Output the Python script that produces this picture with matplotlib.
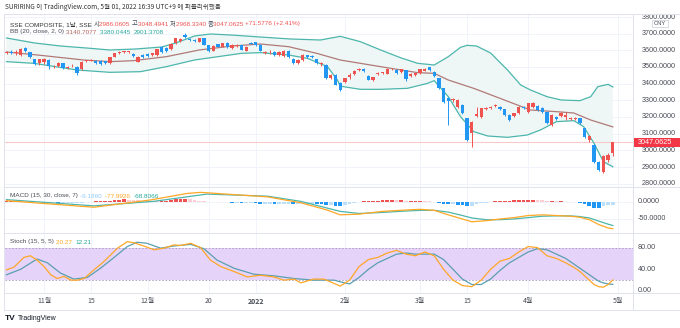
import matplotlib
matplotlib.use("Agg")
import matplotlib.pyplot as plt
import numpy as np

W, H, DPI = 680, 328, 100

# daily bars, SSE Composite, 2021-10-20 .. 2022-04-29
opens = [3587, 3590, 3586, 3572, 3612, 3588, 3546, 3522, 3532, 3542,
         3504, 3506, 3522, 3492, 3510, 3502, 3486, 3536, 3538, 3536,
         3536, 3536, 3522, 3562, 3582, 3592, 3590, 3578, 3532, 3572,
         3576, 3572, 3572, 3618, 3616, 3606, 3642, 3656, 3690, 3668,
         3664, 3652, 3672, 3630, 3598, 3636, 3622, 3646, 3612, 3624,
         3630, 3598, 3644, 3648, 3632, 3582, 3588, 3592, 3572, 3566,
         3598, 3548, 3522, 3542, 3570, 3568, 3546, 3516, 3514, 3432,
         3452, 3406, 3412, 3440, 3456, 3480, 3490, 3448, 3422, 3456,
         3464, 3460, 3486, 3484, 3470, 3482, 3446, 3452, 3466, 3478,
         3498, 3470, 3432, 3372, 3312, 3300, 3262, 3272, 3192, 3102,
         3206, 3202, 3246, 3256, 3266, 3258, 3246, 3212, 3206, 3222,
         3258, 3232, 3262, 3266, 3252, 3232, 3152, 3198, 3206, 3198,
         3190, 3190, 3192, 3132, 3062, 3032, 2928, 2872, 2942, 2986.0605]
highs = [3594, 3600, 3604, 3612, 3618, 3590, 3550, 3550, 3552, 3548,
         3510, 3530, 3526, 3506, 3516, 3504, 3534, 3542, 3546, 3540,
         3540, 3538, 3560, 3586, 3594, 3598, 3596, 3582, 3564, 3578,
         3582, 3586, 3610, 3624, 3620, 3642, 3676, 3672, 3702, 3672,
         3668, 3676, 3676, 3634, 3630, 3640, 3646, 3650, 3636, 3636,
         3634, 3626, 3650, 3652, 3636, 3596, 3600, 3596, 3596, 3602,
         3602, 3552, 3546, 3576, 3574, 3572, 3550, 3532, 3516, 3458,
         3456, 3412, 3436, 3462, 3482, 3492, 3494, 3452, 3442, 3470,
         3472, 3492, 3496, 3488, 3490, 3484, 3462, 3466, 3490, 3492,
         3502, 3474, 3436, 3376, 3318, 3314, 3308, 3280, 3196, 3176,
         3262, 3256, 3260, 3266, 3276, 3264, 3250, 3216, 3226, 3266,
         3266, 3286, 3290, 3270, 3260, 3236, 3216, 3204, 3232, 3232,
         3198, 3200, 3196, 3136, 3090, 3036, 2934, 2974, 2982, 3048.4941]
lows = [3578, 3580, 3575, 3565, 3592, 3556, 3512, 3510, 3520, 3490,
        3496, 3502, 3486, 3486, 3500, 3452, 3482, 3530, 3534, 3518,
        3514, 3518, 3518, 3558, 3578, 3586, 3586, 3560, 3528, 3556,
        3562, 3566, 3568, 3586, 3588, 3602, 3640, 3650, 3676, 3656,
        3648, 3648, 3630, 3592, 3594, 3618, 3618, 3614, 3606, 3620,
        3600, 3594, 3636, 3628, 3594, 3578, 3580, 3568, 3568, 3562,
        3556, 3516, 3518, 3538, 3556, 3552, 3518, 3508, 3428, 3426,
        3390, 3356, 3404, 3428, 3452, 3474, 3470, 3420, 3416, 3452,
        3460, 3456, 3482, 3456, 3466, 3418, 3440, 3446, 3460, 3474,
        3478, 3440, 3368, 3286, 3155, 3292, 3254, 3218, 3058, 3022,
        3200, 3196, 3240, 3248, 3262, 3240, 3206, 3176, 3200, 3218,
        3246, 3226, 3256, 3236, 3226, 3156, 3148, 3182, 3202, 3180,
        3180, 3184, 3156, 3076, 3052, 2926, 2878, 2864, 2930, 2968.3340]
closes = [3590, 3586, 3588, 3606, 3596, 3562, 3518, 3546, 3546, 3506,
          3506, 3526, 3492, 3502, 3512, 3464, 3532, 3538, 3542, 3522,
          3518, 3522, 3558, 3582, 3590, 3594, 3593, 3566, 3562, 3562,
          3566, 3582, 3606, 3592, 3594, 3638, 3672, 3666, 3682, 3662,
          3654, 3672, 3634, 3598, 3626, 3622, 3642, 3620, 3632, 3630,
          3604, 3622, 3640, 3634, 3598, 3590, 3592, 3572, 3592, 3598,
          3562, 3522, 3542, 3570, 3560, 3558, 3522, 3526, 3432, 3454,
          3394, 3362, 3432, 3454, 3478, 3486, 3478, 3424, 3438, 3466,
          3468, 3488, 3490, 3462, 3486, 3430, 3458, 3462, 3488, 3486,
          3482, 3444, 3372, 3292, 3294, 3306, 3302, 3222, 3062, 3172,
          3216, 3252, 3252, 3262, 3272, 3246, 3212, 3182, 3222, 3262,
          3252, 3282, 3286, 3242, 3232, 3162, 3212, 3186, 3226, 3210,
          3194, 3194, 3162, 3082, 3086, 2932, 2884, 2968, 2975, 3047.0625]

tick_idx = [8, 18, 30, 43, 53, 72, 88, 98, 111, 130]
tick_lbl = ["11월", "15", "12월", "20", "2022", "2월", "3월", "15", "4월", "5월"]

# Bollinger bands (20, 2)
bb_up_x = [0, 6, 11.5, 17, 22, 27.5, 33, 36, 40, 43.4, 47.7, 54, 60.4, 66.8, 71,
           75.3, 79.6, 84, 87.5, 91, 94, 96.6, 98, 100, 103, 106.6, 109.4, 111.5,
           115, 118, 122, 124.3, 125.8, 128, 129]
bb_up = [3674, 3644, 3626, 3614, 3602, 3608, 3620, 3644, 3686, 3698, 3692, 3680,
         3668, 3662, 3684, 3652, 3602, 3554, 3522, 3512, 3562, 3618, 3630, 3626,
         3584, 3482, 3392, 3362, 3322, 3302, 3298, 3322, 3382, 3396, 3380.0445]
bb_mid_x = [0, 6.6, 16.4, 22, 27, 34, 41, 48, 54, 60, 66, 71, 79.6, 87.5, 91, 94,
            99.4, 105, 108.7, 111.5, 117, 120.7, 124.3, 129]
bb_mid = [3590, 3572, 3542, 3532, 3538, 3562, 3602, 3626, 3638, 3622, 3582, 3542,
          3502, 3466, 3462, 3422, 3372, 3312, 3272, 3242, 3232, 3224, 3182, 3140.7077]
bb_lo_x = [0, 5.8, 15, 22, 28.5, 34, 40, 50, 54, 60, 64, 68.3, 70.4, 71, 75.3,
           79.6, 85.3, 89.6, 91, 94, 96.6, 99.4, 102.4, 106.6, 110.8, 113.6, 117,
           120.7, 122.8, 125, 127, 129]
bb_lo = [3532, 3522, 3482, 3468, 3472, 3502, 3542, 3582, 3586, 3572, 3552, 3502,
         3422, 3385, 3366, 3366, 3372, 3402, 3418, 3322, 3202, 3112, 3086, 3078,
         3092, 3122, 3172, 3178, 3142, 3042, 2932, 2901.3708]

# MACD (15, 30, 7)
macd_x = [0, 5.8, 18.6, 30.6, 38.5, 41.3, 55.5, 62.6, 68.2, 71, 75, 80, 85, 88, 91,
          94, 97, 99, 102, 105, 108, 111, 114, 117, 120, 122, 124, 126, 128, 129]
macd = [3, -3, -16, 5, 24, 27, 14, -3, -24, -38, -36, -28, -24, -22, -25, -38, -50,
        -58, -55, -50, -46, -40, -38, -40, -42, -45, -52, -66, -76, -77.9926]
sig_x = [0, 18.6, 31.3, 42.7, 55.5, 62.6, 71, 75, 80, 85, 88, 91, 94, 97, 99, 102,
         105, 108, 111, 114, 117, 120, 122, 124, 126, 128, 129]
sig = [6, -12, 1, 22, 16, 1, -28, -34, -31, -27, -25, -25, -30, -40, -47, -52, -52,
       -50, -46, -42, -41, -41, -43, -47, -56, -65, -68.8066]
hist = [1, 2, 2, 3, 2, 1,
        -1, -2, -3, -4, -4, -5, -5, -4, -4, -3, -3, -2,
        0, 1, 2, 2, 3,
        4, 6, 7, 6, 5,
        4, 3, 2, 2, 1, 2, 3,
        5, 7, 8, 8, 7,
        5, 3, 2, 0,
        -1, -2, -2, -2, -3,
        -3, -4, -4, -4, -5, -6, -6, -6, -7, -7, -6, -6,
        -7, -7, -6, -6, -6, -7, -8, -10, -10, -11, -12,
        -10, -7, -4, -2,
        1, 1, 2, 3, 4, 5, 5, 4, 4, 3, 3, 3, 3, 2, 1,
        -1, -3, -6, -8, -8, -9, -10, -12, -11,
        -8, -5, -3, -1, 1, 2, 3, 3, 4, 5, 5,
        6, 6, 5, 4, 2, 2, 1, 1, 0, -1, -1,
        -3, -6, -12, -17, -18, -12, -10, -9.186]

# Stochastic (15, 5, 5)
k_x = [0, 1.6, 3.7, 5.1, 6.5, 8, 9.4, 10.8, 12.2, 13.7, 15.1, 16.5, 18.6, 20.7,
       23.6, 25.7, 27.1, 29.2, 31.4, 33.5, 35.6, 37, 39.2, 41.3, 43.4, 45.6, 48.4,
       51.2, 54, 56.9, 59, 61.2, 62.6, 65.4, 67.5, 69.7, 71, 73, 75, 77, 79, 81,
       83, 85, 87, 89, 91, 93, 95, 97, 99, 101, 103, 105, 107, 109, 111, 113, 115,
       117, 119, 121, 122, 124, 125, 126, 127, 128, 129]
k_val = [39, 44, 62, 65, 57, 45, 30, 23, 27, 20, 20, 23, 39, 54, 79, 91, 89, 83, 76,
         79, 85, 84, 88, 80, 57, 45, 36, 26, 29, 26, 20, 22, 15, 22, 22, 14, 9, 20,
         45, 58, 62, 70, 75, 68, 65, 72, 65, 40, 20, 10, 8, 20, 40, 55, 60, 72, 82,
         80, 65, 60, 52, 42, 36, 20, 12, 8, 7, 12, 20.27]
d_x = [0, 3, 6.5, 8.7, 11.5, 14.3, 17.2, 20, 22.9, 25.7, 27.8, 29.9, 32.8, 35.6,
       39.2, 42, 44.8, 48.4, 52.6, 56.9, 61.2, 65.4, 69.7, 71, 73, 75, 77, 79, 81,
       83, 85, 87, 89, 91, 93, 95, 97, 99, 101, 103, 105, 107, 109, 111, 113, 115,
       117, 119, 121, 122, 124, 125, 126, 127, 128, 129]
d_val = [30, 40, 59, 52, 33, 22, 25, 42, 62, 82, 90, 88, 79, 83, 86, 78, 57, 42, 31,
         28, 23, 20, 20, 17, 13, 25, 40, 52, 60, 68, 70, 68, 68, 68, 58, 40, 22, 12,
         12, 22, 38, 52, 62, 72, 78, 76, 68, 60, 48, 42, 30, 24, 18, 15, 13, 12.21]

UP, DN = "#ef5350", "#2196f3"
TEAL, ORANGE = "#4db6ac", "#ffa726"
GRID, SEP = "#f0f3fa", "#e0e3eb"
TXT = "#4a4d57"
LAT = ["Liberation Sans", "Noto Sans CJK KR"]
NARROW = ["Liberation Sans Narrow", "Liberation Sans"]
KR = ["Noto Sans CJK KR", "DejaVu Sans"]

fig = plt.figure(figsize=(W / DPI, H / DPI), dpi=DPI)
fig.patch.set_facecolor("white")

L, R = 5, 633
X0 = -0.32
X1 = X0 + (R - L) / 4.7


def panel(top, bottom, ylim):
    ax = fig.add_axes([L / W, 1 - bottom / H, (R - L) / W, (bottom - top) / H])
    ax.set_xlim(X0, X1)
    ax.set_ylim(*ylim)
    ax.axis("off")
    for t in tick_idx:
        ax.axvline(t, color=GRID, lw=0.7, zorder=0)
    return ax


def scale(top, bottom, ylim):
    ax = fig.add_axes([R / W, 1 - bottom / H, (W - R) / W, (bottom - top) / H])
    ax.set_xlim(0, W - R)
    ax.set_ylim(*ylim)
    ax.axis("off")
    return ax


ax_p = panel(14, 187, (2780, 3818))
ax_m = panel(187, 233, (-90.5, 42.5))
ax_s = panel(233, 293, (-3.7, 107))

# price panel
for p in range(2800, 3900, 100):
    ax_p.axhline(p, color=GRID, lw=0.7, zorder=0)
ax_p.fill(bb_up_x + bb_lo_x[::-1], bb_up + bb_lo[::-1], color="#eef7f6", lw=0, zorder=1)
ax_p.plot(bb_up_x, bb_up, color=TEAL, lw=0.9, zorder=2)
ax_p.plot(bb_lo_x, bb_lo, color=TEAL, lw=0.9, zorder=2)
ax_p.plot(bb_mid_x, bb_mid, color="#b07a78", lw=0.9, zorder=2)
ax_p.axhline(closes[-1], color="#f9c9c9", lw=0.8, zorder=1)

idx = np.arange(len(closes))
o, c = np.array(opens), np.array(closes)
cols = [UP if cc >= oo else DN for oo, cc in zip(o, c)]
ax_p.vlines(idx, lows, highs, colors=cols, lw=0.7, zorder=3)
body = np.maximum(np.abs(c - o), 5)
ax_p.bar(idx, body, bottom=np.minimum(o, c), width=0.7, color=cols, lw=0, zorder=4)

# MACD panel
ax_m.axhline(0, color=GRID, lw=0.7, zorder=0)
ax_m.axhline(-50, color=GRID, lw=0.7, zorder=0)
hcols = []
for i, h in enumerate(hist):
    prev = hist[i - 1] if i else h
    if h >= 0:
        hcols.append("#ef5350" if h >= prev else "#ffcdd2")
    else:
        hcols.append("#2196f3" if h < prev else "#bbdefb")
ax_m.bar(idx, hist, width=0.8, color=hcols, lw=0, zorder=2)
ax_m.plot(sig_x, sig, color=TEAL, lw=0.9, zorder=3)
ax_m.plot(macd_x, macd, color=ORANGE, lw=0.9, zorder=3)

# Stochastic panel
ax_s.axhspan(20, 80, color="#e6d3f9", lw=0, zorder=0)
ax_s.axhline(80, color="#a79cbc", lw=0.6, ls=(0, (2, 2)), zorder=1)
ax_s.axhline(20, color="#a79cbc", lw=0.6, ls=(0, (2, 2)), zorder=1)
ax_s.plot(d_x, d_val, color="#5b9fb0", lw=0.9, zorder=3)
ax_s.plot(k_x, k_val, color=ORANGE, lw=0.9, zorder=3)

# right-hand scales
sp = scale(14, 187, (2780, 3818))
for p in range(2800, 3900, 100):
    sp.text(9, p, f"{p:.4f}", fontsize=5.2, family=NARROW, color=TXT,
            va="center", clip_on=True)
sp.add_patch(plt.Rectangle((19, 3743), 16, 42, facecolor="white",
                           edgecolor="#c9ccd6", lw=0.5, zorder=3))
sp.text(27, 3764, "CNY", fontsize=4.2, family=NARROW, color=TXT,
        ha="center", va="center", zorder=4)
sp.add_patch(plt.Rectangle((0, closes[-1] - 25), W - R, 50, facecolor="#f23645",
                           lw=0, zorder=3))
sp.text(5, closes[-1], "3047.0625", fontsize=5.2, family=NARROW, color="white",
        va="center", zorder=4)

sm = scale(187, 233, (-90.5, 42.5))
for v in (0, -50):
    sm.text(5, v, f"{v:.4f}", fontsize=5.2, family=NARROW, color=TXT,
            va="center", clip_on=True)
ss = scale(233, 293, (-3.7, 107))
for v in (80, 40, 0):
    ss.text(5, v, f"{v:.2f}", fontsize=5.2, family=NARROW, color=TXT,
            va="center", clip_on=True)

# frame and separators
for yy in (14, 187, 233, 293, 310):
    fig.add_artist(plt.Line2D([4 / W, 1], [1 - yy / H] * 2, color=SEP, lw=0.7))
fig.add_artist(plt.Line2D([R / W] * 2, [1 - 14 / H, 1 - 310 / H], color=SEP, lw=0.7))
fig.add_artist(plt.Line2D([4 / W] * 2, [1 - 14 / H, 1 - 310 / H], color=SEP, lw=0.7))

# time axis
for t, lbl in zip(tick_idx, tick_lbl):
    xp = L + (t - X0) * 4.7
    fig.text(xp / W, 1 - 301 / H, lbl, fontsize=5.0, family=KR, color=TXT,
             ha="center", va="center",
             fontweight="bold" if lbl == "2022" else "normal")

renderer = fig.canvas.get_renderer()


def row(x, y, parts, size=4.6, family=LAT):
    x = x / W
    for s, col in parts:
        t = fig.text(x, 1 - y / H, s, fontsize=size, family=family, color=col, va="center")
        x += t.get_window_extent(renderer).width / W


row(5, 7, [("SURIRING 이 TradingView.com, 5월 01, 2022 16:39 UTC+9 에 퍼블리쉬했음", "#333333")],
    size=4.7, family=KR)
row(10, 24, [("SSE COMPOSITE, 1날, SSE ", "#333333"),
             ("시", TXT), ("2986.0605 ", UP), ("고", TXT), ("3048.4941 ", UP),
             ("저", TXT), ("2968.3340 ", UP), ("종", TXT), ("3047.0625 ", UP),
             ("+71.5776 (+2.41%)", UP)])
row(10, 32, [("BB (20, close, 2, 0) ", TXT), ("3140.7077  ", "#b5655f"),
             ("3380.0445  ", "#26a69a"), ("2901.3708", "#26a69a")])
row(10, 196, [("MACD (15, 30, close, 7) ", TXT), ("-9.1860  ", "#90caf9"),
              ("-77.9926  ", ORANGE), ("-68.8066", "#26a69a")])
row(10, 242, [("Stoch (15, 5, 5) ", TXT), ("20.27  ", ORANGE), ("12.21", "#26a69a")])

fig.text(5 / W, 1 - 319 / H, "TV", fontsize=6, fontweight="bold", color="#131722",
         va="center", family=LAT)
fig.text(18 / W, 1 - 319 / H, "TradingView", fontsize=5, color="#131722",
         va="center", family=LAT)

fig.savefig("out.png", dpi=DPI)
